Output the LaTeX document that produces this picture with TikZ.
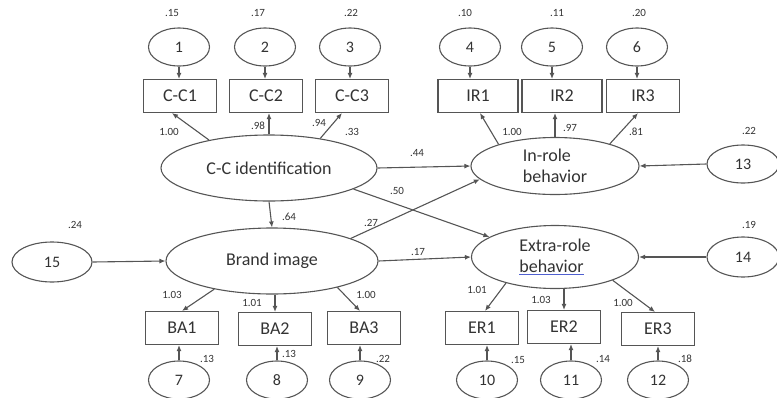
\documentclass[tikz,border=0pt]{standalone}
\usepackage{fontspec}
\setmainfont{Carlito}
\usetikzlibrary{shapes.geometric,arrows.meta}
\definecolor{linec}{HTML}{555555}
\definecolor{textc}{HTML}{333333}
\definecolor{spellc}{HTML}{5060D0}
\begin{document}
\begin{tikzpicture}[
          x=1pt, y=-1pt,
          font=\fontsize{18}{21}\selectfont, text=textc,
          latent/.style={ellipse, draw=linec, line width=1.1pt, inner sep=0pt},
          errvar/.style={ellipse, draw=linec, line width=1.1pt, inner sep=0pt,
            minimum width=61pt, minimum height=38pt, font=\fontsize{16}{18}\selectfont},
          obsbox/.style={rectangle, draw=linec, line width=1.1pt, inner sep=0pt,
            minimum width=73pt, minimum height=33pt},
          coef/.style={inner sep=0pt, font=\fontsize{11}{12}\selectfont},
          path/.style={draw=linec, line width=1.1pt, -{Latex[length=6pt,width=5pt]}}
        ]
        \useasboundingbox (0,0) rectangle (777,397);
        % latent variables
        \node[latent, minimum width=216pt, minimum height=66pt] (ccid) at (269,168) {C-C identification};
        \node[latent, minimum width=212pt, minimum height=66pt] (brand) at (272,261) {Brand image};
        \node[latent, minimum width=168pt, minimum height=57pt, align=left] (inrole) at (555,166) {In-role\\behavior};
        \node[latent, minimum width=167pt, minimum height=63pt, align=left] (extra) at (555,257)
          {Extra-role\\\textcolor{spellc}{\underline{\textcolor{textc}{behavior}}}};
        % indicators
        \node[obsbox] (cc1) at (180,96) {C-C1};
        \node[obsbox] (cc2) at (266,96) {C-C2};
        \node[obsbox] (cc3) at (352,96) {C-C3};
        \node[obsbox, minimum width=80pt] (ir1) at (478,96) {IR1};
        \node[obsbox, minimum width=80pt] (ir2) at (562,96) {IR2};
        \node[obsbox] (ir3) at (643,96) {IR3};
        \node[obsbox] (ba1) at (182,328) {BA1};
        \node[obsbox] (ba2) at (275,329) {BA2};
        \node[obsbox] (ba3) at (364,328) {BA3};
        \node[obsbox] (er1) at (482,328) {ER1};
        \node[obsbox] (er2) at (564,327) {ER2};
        \node[obsbox] (er3) at (658,329) {ER3};
        % error terms
        \node[errvar] (e1) at (179,47) {1};
        \node[errvar] (e2) at (265,47) {2};
        \node[errvar] (e3) at (350,47) {3};
        \node[errvar] (e4) at (470,47) {4};
        \node[errvar] (e5) at (552,47) {5};
        \node[errvar] (e6) at (637,47) {6};
        \node[errvar] (e7) at (179,380) {7};
        \node[errvar] (e8) at (277,380) {8};
        \node[errvar] (e9) at (360,380) {9};
        \node[errvar] (e10) at (487,380) {10};
        \node[errvar] (e11) at (571,380) {11};
        \node[errvar] (e12) at (658,380) {12};
        \node[errvar, minimum width=72pt] (e13) at (743,164) {13};
        \node[errvar, minimum width=72pt, minimum height=40pt] (e14) at (743,257) {14};
        \node[errvar, minimum width=80pt, minimum height=40pt] (e15) at (52,262) {15};
        % error arrows
        \foreach \e/\o in {e1/cc1, e2/cc2, e3/cc3, e4/ir1, e5/ir2, e6/ir3}
          \draw[path] (\e.south) -- (\e.south |- \o.north);
        \foreach \e/\o in {e7/ba1, e8/ba2, e9/ba3, e10/er1, e11/er2, e12/er3}
          \draw[path] (\e.north) -- (\e.north |- \o.south);
        \draw[path] (e13.west) -- (inrole.east);
        \draw[path] (e14.west) -- (extra.east);
        \draw[path] (e15.east) -- (brand.west);
        % loadings
        \draw[path] (ccid.155) -- ([xshift=-8pt]cc1.south);
        \draw[path] (ccid.north) -- (ccid.north |- cc2.south);
        \draw[path] (ccid.30) -- ([xshift=-10pt]cc3.south);
        \draw[path] (inrole.159) -- ([xshift=2pt]ir1.south);
        \draw[path] (inrole.north) -- (inrole.north |- ir2.south);
        \draw[path] (inrole.22) -- ([xshift=-5pt]ir3.south);
        \draw[path] (brand.206) -- (ba1.north);
        \draw[path] (ba2.north |- brand.south) -- (ba2.north);
        \draw[path] (brand.338) -- ([xshift=-4pt]ba3.north);
        \draw[path] (extra.208) -- ([xshift=3pt]er1.north);
        \draw[path] (er2.north |- extra.south) -- (er2.north);
        \draw[path] (extra.338) -- ([xshift=-3pt]er3.north);
        % structural paths
        \draw[path] (ccid.east) -- (inrole.west);
        \draw[path] (ccid.346) -- (extra.163);
        \draw[path] (ccid.south) -- (brand.north);
        \draw[path] (brand.16) -- (inrole.190);
        \draw[path] (brand.east) -- (extra.west);
        % estimates
        \node[coef] (v1) at (172,13) {.15};
        \node[coef] (v2) at (258,13) {.17};
        \node[coef] (v3) at (351,13) {.22};
        \node[coef] (v4) at (465,13) {.10};
        \node[coef] (v5) at (557,13) {.11};
        \node[coef] (v6) at (639,13) {.20};
        \node[coef] (l1) at (169,132) {1.00};
        \node[coef] (l2) at (258,126) {.98};
        \node[coef] (l3) at (319,123) {.94};
        \node[coef] (r1) at (352,132) {.33};
        \node[coef] (l4) at (512,132) {1.00};
        \node[coef] (l5) at (570,128) {.97};
        \node[coef] (l6) at (636,132) {.81};
        \node[coef] (v13) at (749,131) {.22};
        \node[coef] (b1) at (417,153) {.44};
        \node[coef] (b2) at (397,191) {.50};
        \node[coef] (b3) at (289,217) {.64};
        \node[coef] (b4) at (371,223) {.27};
        \node[coef] (b5) at (418,252) {.17};
        \node[coef] (v15) at (75,225) {.24};
        \node[coef] (v14) at (749,225) {.19};
        \node[coef] (l7) at (172,295) {1.03};
        \node[coef] (l8) at (252,303) {1.01};
        \node[coef] (l9) at (366,295) {1.00};
        \node[coef] (l10) at (477,290) {1.01};
        \node[coef] (l11) at (541,300) {1.03};
        \node[coef] (l12) at (623,303) {1.00};
        \node[coef] (v7) at (207,359) {.13};
        \node[coef] (v8) at (289,354) {.13};
        \node[coef] (v9) at (383,359) {.22};
        \node[coef] (v10) at (518,360) {.15};
        \node[coef] (v11) at (603,359) {.14};
        \node[coef] (v12) at (685,359) {.18};
        \end{tikzpicture}
\end{document}
